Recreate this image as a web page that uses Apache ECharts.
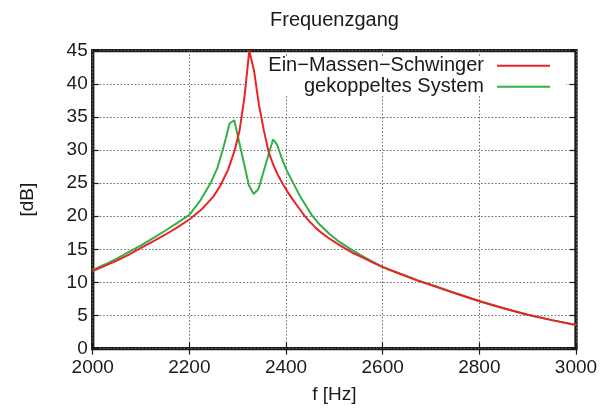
<!DOCTYPE html>
<html>
<head>
<meta charset="utf-8">
<script src="https://cdn.jsdelivr.net/npm/echarts@6/dist/echarts.min.js"></script>
<style>html,body{margin:0;padding:0;background:#fff}#c{width:610px;height:410px}</style>
</head>
<body>
<div id="c"></div>
<script>
const titleText = 'Frequenzgang';
const xName = 'f [Hz]';
const yName = '[dB]';
const seriesNames = ['Ein\u2212Massen\u2212Schwinger', 'gekoppeltes System'];

const freqSingle = [2000, 2025, 2050, 2075, 2100, 2125, 2150, 2175, 2200, 2225, 2250, 2264, 2280, 2294, 2304, 2314, 2324, 2334, 2344, 2354, 2364, 2374, 2384, 2394, 2404, 2414, 2424, 2438, 2450, 2462, 2475, 2490, 2505, 2522, 2540, 2560, 2580, 2600, 2625, 2650, 2675, 2700, 2750, 2800, 2850, 2900, 2950, 3000];
const dbSingle   = [11.7, 12.5, 13.3, 14.2, 15.2, 16.2, 17.2, 18.3, 19.5, 21.0, 23.0, 24.6, 27.0, 30.0, 33.0, 38.0, 45.0, 41.9, 36.8, 33.0, 29.7, 27.7, 26.1, 24.8, 23.6, 22.5, 21.5, 20.1, 19.1, 18.2, 17.4, 16.6, 15.9, 15.15, 14.4, 13.7, 13.0, 12.3, 11.6, 10.9, 10.2, 9.6, 8.35, 7.15, 6.1, 5.1, 4.3, 3.55];

const freqCoupled = [2000, 2025, 2050, 2075, 2100, 2125, 2150, 2175, 2200, 2222, 2244, 2258, 2269, 2276, 2283, 2293, 2303, 2313, 2323, 2333, 2343, 2353, 2363, 2373, 2381, 2391, 2401, 2415, 2430, 2453, 2470, 2490, 2510, 2532, 2560, 2580, 2600, 2625, 2650, 2675, 2700, 2750, 2800, 2850, 2900, 2950, 3000];
const dbCoupled   = [11.9, 12.7, 13.6, 14.6, 15.6, 16.7, 17.8, 19.0, 20.2, 22.3, 25.0, 27.3, 30.0, 31.9, 34.0, 34.5, 31.2, 28.0, 24.7, 23.35, 24.1, 26.6, 29.1, 31.6, 30.9, 28.8, 27.0, 25.0, 22.9, 20.2, 18.7, 17.3, 16.15, 15.1, 13.9, 13.1, 12.35, 11.6, 10.95, 10.25, 9.65, 8.4, 7.2, 6.1, 5.1, 4.3, 3.55];

const xMin = 2000, xMax = 3000, xStep = 200;
const yMin = 0, yMax = 45, yStep = 5;

const pairs = (xs, ys) => xs.map((x, i) => [x, ys[i]]);
const FONT = 'Liberation Sans, Arial, sans-serif';
const txt = '#1a1a1a';

const chart = echarts.init(document.getElementById('c'), null, {renderer: 'canvas'});
const gridLine = {show: true, lineStyle: {color: '#666', type: [1.5, 2], width: 1}};
const tick = {show: true, inside: true, length: 6, lineStyle: {color: '#1a1a1a', width: 1.2}};
chart.setOption({
  animation: false,
  backgroundColor: '#fff',
  title: {text: titleText, left: 270, top: 10, padding: 0,
    textStyle: {fontFamily: FONT, fontSize: 20, fontWeight: 'normal', color: txt}},
  grid: {left: 92.7, right: 34, top: 50.7, bottom: 61.4, show: true,
    borderColor: '#1a1a1a', borderWidth: 3.3, backgroundColor: 'transparent'},
  legend: [
    {data: [seriesNames[0]], right: 60, top: 55.7, padding: 0, align: 'right', orient: 'vertical',
     itemWidth: 53, itemHeight: 20, icon: 'path://M0,9L53,9L53,11L0,11Z', z: 3,
     textStyle: {fontFamily: FONT, fontSize: 20, color: txt, padding: [0, 8, 0, 0]}},
    {data: [seriesNames[1]], right: 60, top: 76.7, padding: 0, align: 'right', orient: 'vertical',
     itemWidth: 53, itemHeight: 20, icon: 'path://M0,9L53,9L53,11L0,11Z', z: 3,
     textStyle: {fontFamily: FONT, fontSize: 20, color: txt, padding: [0, 8, 0, 0]}}
  ],
  graphic: [{type: 'rect', shape: {x: 244, y: 57, width: 322, height: 38}, style: {fill: '#fff'}, z: 1, silent: true}],
  xAxis: [
    {type: 'value', min: xMin, max: xMax, interval: xStep, position: 'bottom',
     name: xName, nameLocation: 'middle', nameGap: 37,
     nameTextStyle: {fontFamily: FONT, fontSize: 19, color: txt},
     axisLine: {show: false}, axisTick: tick,
     axisLabel: {fontFamily: FONT, fontSize: 19, color: txt, margin: 10, formatter: v => String(v)},
     splitLine: gridLine},
    {type: 'value', min: xMin, max: xMax, interval: xStep, position: 'top',
     axisLine: {show: false}, axisTick: tick, axisLabel: {show: false}, splitLine: {show: false}}
  ],
  yAxis: [
    {type: 'value', min: yMin, max: yMax, interval: yStep, position: 'left',
     name: yName, nameLocation: 'middle', nameGap: 55,
     nameTextStyle: {fontFamily: FONT, fontSize: 19, color: txt},
     axisLine: {show: false}, axisTick: tick,
     axisLabel: {fontFamily: FONT, fontSize: 19, color: txt, margin: 5, formatter: v => String(v)},
     splitLine: gridLine},
    {type: 'value', min: yMin, max: yMax, interval: yStep, position: 'right',
     axisLine: {show: false}, axisTick: tick, axisLabel: {show: false}, splitLine: {show: false}}
  ],
  series: [
    {name: seriesNames[0], type: 'line', data: pairs(freqSingle, dbSingle), symbol: 'none', z: 5,
     lineStyle: {color: '#ec2227', width: 2}, itemStyle: {color: '#ec2227'}},
    {name: seriesNames[1], type: 'line', data: pairs(freqCoupled, dbCoupled), symbol: 'none', z: 4,
     lineStyle: {color: '#33b04a', width: 2}, itemStyle: {color: '#33b04a'}}
  ]
});
</script>
</body>
</html>
